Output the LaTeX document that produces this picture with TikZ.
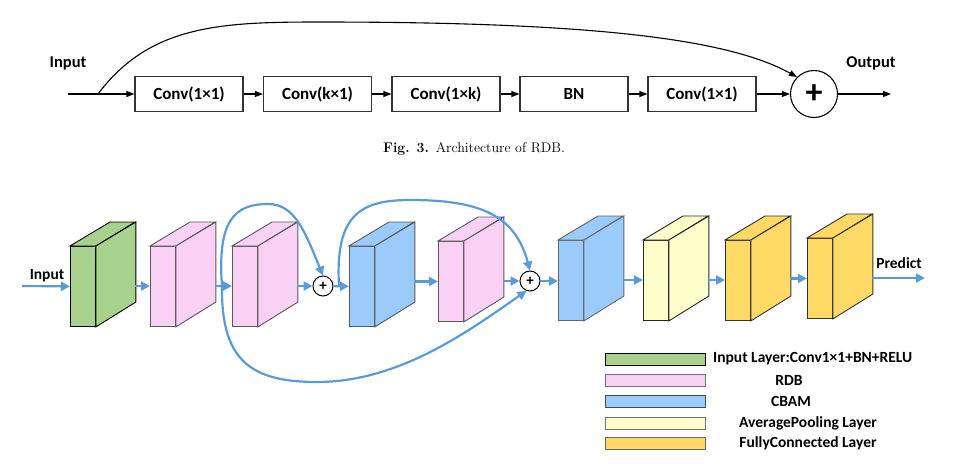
\documentclass[tikz,border=0pt]{standalone}
\usepackage{fontspec}
\setsansfont{Carlito}
\usepackage{tikz}
\usetikzlibrary{arrows.meta}

\definecolor{flowblue}{HTML}{5B9BD5}
\definecolor{inputgreen}{HTML}{A9D18E}
\definecolor{rdbpink}{HTML}{F8D1F4}
\definecolor{cbamblue}{HTML}{9BCBFB}
\definecolor{poolyellow}{HTML}{FFFFCC}
\definecolor{fcgold}{HTML}{FFD966}

% layer block: name, front x, front top y, fill, edge
\newcommand{\layer}[5]{%
  \node[draw=#5, fill=#4, layerface, anchor=north west] (#1) at (#2,#3) {};
  \filldraw[fill=#4, draw=#5, line width=0.9pt] (#1.north west) -- ++(40,-24) -- ++(25,0) -- (#1.north east) -- cycle;
  \filldraw[fill=#4, draw=#5, line width=0.9pt] (#1.north east) -- ++(40,-24) -- ++(0,80) -- (#1.south east) -- cycle;
  \coordinate (#1-o) at (#2+65,#3+40);
}

\begin{document}
\begin{tikzpicture}[x=1pt, y=-1pt, font=\sffamily\bfseries,
  opbox/.style={draw=black!80, line width=1.1pt, minimum width=108pt, minimum height=35pt, inner sep=0pt, font=\sffamily\bfseries\fontsize{17}{20}\selectfont},
  blk/.style={line width=1.1pt, -{Triangle[length=8pt,width=6pt]}},
  blu/.style={draw=flowblue, line width=2.2pt, -{Triangle[length=9pt,width=9pt]}},
  layerface/.style={line width=0.9pt, minimum width=25pt, minimum height=80pt, inner sep=0pt},
  addsmall/.style={circle, draw, line width=1pt, fill=white, minimum size=20pt, inner sep=0pt, font=\sffamily\bfseries\fontsize{15}{15}\selectfont},
  keybar/.style={line width=1pt, minimum width=100pt, minimum height=12pt, inner sep=0pt},
  keytext/.style={font=\sffamily\bfseries\fontsize{15.5}{18}\selectfont}]
  \useasboundingbox (0,0) rectangle (964,464);

  % ---- Fig. 3: RDB ----
  \node[font=\sffamily\bfseries\fontsize{16.5}{19}\selectfont] (inlbl) at (68,63) {Input};
  \node[font=\sffamily\bfseries\fontsize{16.5}{19}\selectfont] (outlbl) at (871,63) {Output};
  \coordinate (in0) at (68,94);
  \coordinate (j0) at (98,94);
  \node[opbox] (c1) at (189,94) {Conv(1×1)};
  \node[opbox] (c2) at (317.5,94) {Conv(k×1)};
  \node[opbox] (c3) at (446,94) {Conv(1×k)};
  \node[opbox] (bn) at (574,94) {BN};
  \node[opbox] (c4) at (702,94) {Conv(1×1)};
  \node[circle, draw, line width=1.1pt, minimum size=47pt, inner sep=0pt, font=\sffamily\bfseries\fontsize{34}{34}\selectfont] (sum) at (814,94) {+};
  \coordinate (out0) at (891,94);
  \draw[line width=1.1pt] (in0) -- (j0);
  \draw[blk] (j0) -- (c1);
  \draw[blk] (c1) -- (c2);
  \draw[blk] (c2) -- (c3);
  \draw[blk] (c3) -- (bn);
  \draw[blk] (bn) -- (c4);
  \draw[blk] (c4) -- (sum);
  \draw[blk] (sum) -- (out0);
  \draw[blk] (j0) .. controls (150,25) and (220,22) .. (320,22) .. controls (600,22) and (730,40) .. (sum.135);
  \node[font=\rmfamily\fontsize{14}{16}\selectfont] (cap) at (474,149) {\textbf{Fig. 3.}\enspace Architecture of RDB.};

  % ---- network ----
  \node[font=\sffamily\bfseries\fontsize{15.5}{18}\selectfont] (netin) at (47,276) {Input};
  \node[font=\sffamily\bfseries\fontsize{15.5}{18}\selectfont] (netout) at (899,263) {Predict};
  \coordinate (in1) at (22,286);
  \layer{g0}{70}{246}{inputgreen}{black}
  \layer{p1}{150}{246}{rdbpink}{black!65}
  \layer{p2}{232}{246}{rdbpink}{black!65}
  \node[addsmall] (s1) at (323,286) {+};
  \layer{b1}{349}{246}{cbamblue}{black!65}
  \layer{p3}{438}{241}{rdbpink}{black!65}
  \node[addsmall] (s2) at (530,281) {+};
  \layer{b2}{558}{240}{cbamblue}{black!60}
  \layer{y1}{643}{240}{poolyellow}{black!85}
  \layer{f1}{725}{240}{fcgold}{black!80}
  \layer{f2}{807}{238}{fcgold}{black!80}
  \coordinate (pr) at (925,278);
  \coordinate (j1) at (222,286);
  \coordinate (j2) at (339,286);

  \draw[blu] (in1) -- (g0);
  \draw[blu] (g0-o) -- (g0-o -| p1.west);
  \draw[blu] (p1-o) -- (p1-o -| p2.west);
  \draw[blu] (p2-o) -- (s1);
  \draw[blu] (s1) -- (b1);
  \draw[blu] (b1-o |- p3.west) -- (p3.west);
  \draw[blu] (p3-o) -- (s2);
  \draw[blu] (s2) -- (s2 -| b2.west);
  \draw[blu] (b2-o) -- (b2-o -| y1.west);
  \draw[blu] (y1-o) -- (y1-o -| f1.west);
  \draw[blu] (f1-o |- f2.west) -- (f2.west);
  \draw[blu] (f2-o) -- (pr);

  % skip paths
  \draw[blu] (j1) .. controls (217,220) and (235,204) .. (268,204) .. controls (295,204) and (305,232) .. (s1.north);
  \draw[blu] (j1) .. controls (221,360) and (250,382) .. (317,382) .. controls (400,382) and (470,330) .. (s2.-110);
  \draw[blu] (j2) .. controls (335,215) and (360,200) .. (410,200) .. controls (480,200) and (515,215) .. (s2.north);

  % ---- legend ----
  \node[keybar, fill=inputgreen, draw=black] (k1) at (655.5,359) {};
  \node[keybar, fill=rdbpink, draw=black!55] (k2) at (655.5,380) {};
  \node[keybar, fill=cbamblue, draw=black!70] (k3) at (655.5,401.5) {};
  \node[keybar, fill=poolyellow, draw=black!55] (k4) at (655.5,423) {};
  \node[keybar, fill=fcgold, draw=black!60] (k5) at (655.5,443.5) {};
  \node[keytext, anchor=west, inner sep=0pt] (t1) at (713,359) {Input Layer:Conv1×1+BN+RELU};
  \node[keytext] (t2) at (789,380) {RDB};
  \node[keytext] (t3) at (791,401.5) {CBAM};
  \node[keytext] (t4) at (808,423) {AveragePooling Layer};
  \node[keytext] (t5) at (808,443.5) {FullyConnected Layer};
\end{tikzpicture}
\end{document}
